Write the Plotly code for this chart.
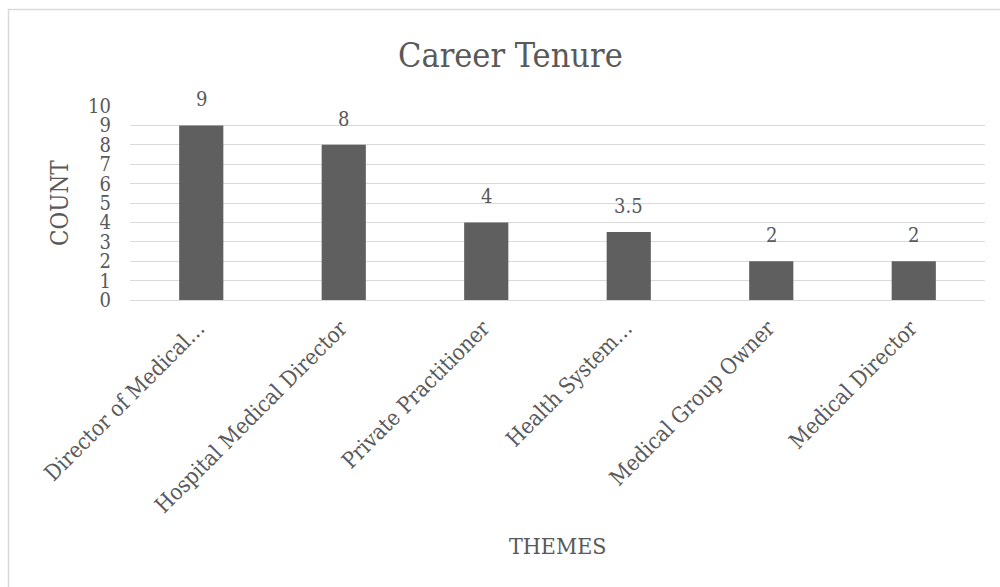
import plotly.graph_objects as go

# Chart data
categories = [
    "Director of Medical…",
    "Hospital Medical Director",
    "Private Practitioner",
    "Health System…",
    "Medical Group Owner",
    "Medical Director",
]
counts = [9, 8, 4, 3.5, 2, 2]
value_labels = ["9", "8", "4", "3.5", "2", "2"]
y_ticks = list(range(0, 11))

W, H = 1000, 587
L, R, T, B = 130, 15, 106, 287
plot_w = W - L - R
plot_h = H - T - B

FONT = "DejaVu Serif Condensed, DejaVu Serif, serif"
TEXT = "#595959"
GRID = "#d9d9d9"
BAR = "#5f5f5f"


def px_x(px):
    return (px - L) / plot_w


def px_y(py):
    return (H - B - py) / plot_h


fig = go.Figure(
    go.Bar(
        x=categories,
        y=counts,
        marker=dict(color=BAR, line=dict(width=0)),
        hoverinfo="skip",
    )
)

# Value labels above each bar
for cat, val, lab in zip(categories, counts, value_labels):
    fig.add_annotation(
        x=cat, y=val, text=lab, showarrow=False,
        xanchor="center", yanchor="bottom", yshift=12,
        font=dict(family=FONT, size=20, color=TEXT),
    )

fig.update_layout(
    width=W,
    height=H,
    margin=dict(l=L, r=R, t=T, b=B, autoexpand=False),
    paper_bgcolor="white",
    plot_bgcolor="white",
    bargap=0.69,
    showlegend=False,
    font=dict(family=FONT, color=TEXT),
)

fig.update_xaxes(
    type="category",
    range=[-0.5, 5.5],
    tickangle=-45,
    tickfont=dict(family=FONT, size=22, color=TEXT),
    ticklabelstandoff=10,
    ticklabelshift=-3,
    showgrid=False,
    showline=False,
    ticks="",
    automargin=False,
)

fig.update_yaxes(
    range=[0, 10],
    tickvals=y_ticks,
    ticktext=[str(v) for v in y_ticks],
    tickfont=dict(family=FONT, size=20, color=TEXT),
    ticklabelstandoff=18,
    showgrid=True,
    gridcolor=GRID,
    gridwidth=1,
    zeroline=True,
    zerolinecolor=GRID,
    zerolinewidth=1,
    showline=False,
    ticks="",
    automargin=False,
)

# Title and axis titles
fig.add_annotation(
    text="Career Tenure", xref="paper", yref="paper",
    x=px_x(510), y=px_y(55), xanchor="center", yanchor="middle",
    showarrow=False, font=dict(family=FONT, size=34, color=TEXT),
)
fig.add_annotation(
    text="COUNT", xref="paper", yref="paper",
    x=px_x(60), y=px_y(203), xanchor="center", yanchor="middle",
    showarrow=False, textangle=-90,
    font=dict(family=FONT, size=24, color=TEXT),
)
fig.add_annotation(
    text="THEMES", xref="paper", yref="paper",
    x=px_x(557), y=px_y(546), xanchor="center", yanchor="middle",
    showarrow=False, font=dict(family=FONT, size=23, color=TEXT),
)

# Chart frame (top and left edges)
fig.add_shape(type="line", xref="paper", yref="paper",
              x0=px_x(8), x1=px_x(1000), y0=px_y(9.5), y1=px_y(9.5),
              line=dict(color=GRID, width=1.5))
fig.add_shape(type="line", xref="paper", yref="paper",
              x0=px_x(8.5), x1=px_x(8.5), y0=px_y(9), y1=px_y(587),
              line=dict(color=GRID, width=1.5))

fig.write_html("out.html")
